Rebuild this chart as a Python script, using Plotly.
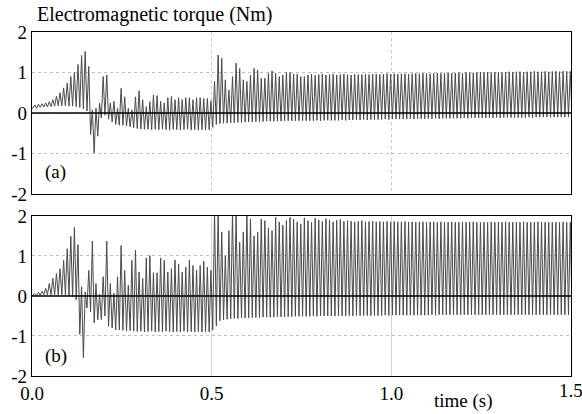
import plotly.graph_objects as go

# Torque pulsation: one record per 10 ms cycle (100 Hz), max and min of each cycle in Nm
PERIOD = 0.01

# ---- (a) ----
a_start = 0.10
a_peak = [
    0.20, 0.22, 0.23, 0.25, 0.28, 0.33, 0.42, 0.50, 0.62, 0.74, 0.90, 1.00, 1.20, 1.42, 1.52, 1.15,
    0.08, 0.12, 0.25, 0.90, 0.94, 0.25, 0.29, 0.12, 0.61, 0.40, 0.12, 0.08,
    0.40, 0.55, 0.33, 0.16, 0.28, 0.45, 0.43, 0.29, 0.25, 0.38, 0.41, 0.33, 0.38, 0.33, 0.38, 0.38,
    0.33, 0.38, 0.38, 0.36, 0.36, 0.30,
    0.78, 1.43, 1.35, 0.82, 0.57, 0.90, 1.23, 1.10, 0.82, 0.78, 0.94, 1.10, 1.06, 0.86, 0.86, 0.98,
    1.04, 0.98, 0.90, 0.94, 1.00, 1.00, 0.96, 0.96, 0.90,
    0.90, 0.94, 0.96, 0.93, 0.95, 0.96, 0.94, 0.95, 0.96, 0.94,
    0.95, 0.96, 0.95, 0.94, 0.96, 0.95, 0.95, 0.96, 0.95, 0.96,
    0.96, 0.95, 0.96, 0.97, 0.96, 0.97, 0.96, 0.97, 0.97, 0.96,
    0.97, 0.98, 0.97, 0.98, 0.98, 0.97, 0.98, 0.99, 0.98, 0.99,
    0.99, 0.98, 0.99, 1.00, 0.99, 1.00, 1.00, 0.99, 1.00, 1.01,
    1.00, 1.01, 1.00, 1.01, 1.01, 1.00, 1.01, 1.02, 1.01, 1.02,
    1.02, 1.01, 1.02, 1.02, 1.03, 1.02, 1.02, 1.03, 1.02, 1.03,
    1.03, 1.02, 1.03, 1.03, 1.03,
]
a_trough = [
    0.12, 0.14, 0.15, 0.15, 0.16, 0.17, 0.18, 0.18, 0.18, 0.17, 0.17, 0.16, 0.14, 0.10, 0.05, -0.53,
    -0.98, -0.57, -0.12, -0.05, -0.15, -0.22, -0.28, -0.30, -0.30, -0.32, -0.34, -0.36,
    -0.38, -0.39, -0.40, -0.40, -0.41, -0.40, -0.41, -0.40, -0.41, -0.42, -0.40, -0.41, -0.42, -0.41,
    -0.40, -0.42, -0.41, -0.42, -0.41, -0.42, -0.41, -0.35,
    -0.28, -0.26, -0.25, -0.25, -0.24, -0.24, -0.23, -0.23, -0.22, -0.22, -0.22, -0.21, -0.21, -0.21,
    -0.20, -0.20, -0.20, -0.20, -0.20, -0.19, -0.19, -0.19, -0.19, -0.19, -0.19,
    -0.19, -0.19, -0.19, -0.18, -0.19, -0.18, -0.18, -0.18, -0.18, -0.18,
    -0.17, -0.18, -0.17, -0.17, -0.17, -0.17, -0.16, -0.17, -0.16, -0.16,
    -0.16, -0.16, -0.15, -0.16, -0.15, -0.15, -0.15, -0.15, -0.15, -0.14,
    -0.15, -0.14, -0.14, -0.14, -0.14, -0.14, -0.13, -0.14, -0.13, -0.13,
    -0.13, -0.13, -0.13, -0.13, -0.12, -0.13, -0.12, -0.12, -0.12, -0.12,
    -0.12, -0.12, -0.12, -0.11, -0.12, -0.11, -0.11, -0.11, -0.11, -0.11,
    -0.11, -0.11, -0.10, -0.11, -0.10, -0.10, -0.10, -0.10, -0.10, -0.10,
    -0.10, -0.10, -0.10, -0.10, -0.10,
]

# ---- (b) ----
b_start = 0.0
b_peak = [
    0.06, 0.09, 0.12, 0.19, 0.31, 0.44, 0.56, 0.68, 0.89, 1.18, 1.49, 1.71, 1.28, 0.23, 0.10, 0.64,
    1.37, 0.31, 0.05, 0.48, 1.37, 0.31, 0.07, 0.48, 1.26, 0.64, 0.27, 0.89,
    1.14, 0.60, 0.44, 0.95, 1.01, 0.58, 0.58, 0.95, 0.89, 0.60, 0.68, 0.90, 0.80, 0.60, 0.72, 0.90,
    0.76, 0.64, 0.76, 0.87, 0.72, 0.64,
    2.10, 2.10, 1.60, 1.00, 1.63, 2.10, 2.05, 1.34, 1.60, 2.05, 1.92, 1.50, 1.60, 1.92, 1.88, 1.70,
    1.63, 1.96, 1.85, 1.77, 1.88, 1.96, 1.92, 1.85, 1.80,
    1.95, 1.88, 1.84, 1.94, 1.90, 1.86, 1.93, 1.90, 1.85, 1.89,
    1.91, 1.86, 1.88, 1.87, 1.85, 1.86, 1.88, 1.85, 1.86, 1.87,
    1.85, 1.86, 1.85, 1.86, 1.85, 1.86, 1.85, 1.85, 1.86, 1.85,
    1.85, 1.84, 1.85, 1.85, 1.84, 1.85, 1.85, 1.84, 1.85, 1.84,
    1.84, 1.85, 1.84, 1.84, 1.85, 1.84, 1.84, 1.85, 1.84, 1.84,
    1.84, 1.84, 1.85, 1.84, 1.84, 1.84, 1.85, 1.84, 1.84, 1.84,
    1.84, 1.85, 1.84, 1.84, 1.84, 1.85, 1.84, 1.84, 1.84, 1.84,
    1.84, 1.84, 1.85, 1.84, 1.84,
]
b_trough = [
    0.01, 0.02, 0.03, 0.03, 0.03, 0.03, 0.03, 0.03, 0.02, 0.00, -0.02, -0.10, -0.96, -1.54, -0.30, -0.40,
    -0.67, -0.60, -0.59, -0.50, -0.76, -0.80, -0.85, -0.85, -0.86, -0.88, -0.87, -0.88,
    -0.89, -0.88, -0.90, -0.89, -0.88, -0.90, -0.89, -0.90, -0.88, -0.89, -0.90, -0.89, -0.90, -0.88,
    -0.90, -0.89, -0.90, -0.89, -0.90, -0.89, -0.90, -0.85,
    -0.75, -0.62, -0.60, -0.58, -0.57, -0.56, -0.56, -0.55, -0.55, -0.55, -0.54, -0.54, -0.54, -0.53,
    -0.53, -0.53, -0.53, -0.52, -0.52, -0.52, -0.52, -0.52, -0.51, -0.51, -0.51,
    -0.51, -0.51, -0.50, -0.51, -0.50, -0.50, -0.50, -0.50, -0.50, -0.50,
    -0.50, -0.50, -0.49, -0.50, -0.49, -0.49, -0.49, -0.49, -0.49, -0.49,
    -0.49, -0.49, -0.48, -0.49, -0.48, -0.48, -0.48, -0.48, -0.48, -0.48,
    -0.48, -0.48, -0.48, -0.48, -0.48, -0.47, -0.48, -0.47, -0.47, -0.47,
    -0.47, -0.47, -0.47, -0.47, -0.47, -0.47, -0.47, -0.47, -0.47, -0.47,
    -0.47, -0.47, -0.47, -0.47, -0.47, -0.47, -0.47, -0.47, -0.47, -0.47,
    -0.47, -0.47, -0.47, -0.47, -0.47, -0.47, -0.47, -0.47, -0.47, -0.47,
    -0.47, -0.47, -0.47, -0.47, -0.47,
]

x_ticks = [0.0, 0.5, 1.0, 1.5]
x_tick_text = ["0.0", "0.5", "1.0", "1.5"]
y_ticks = [-2, -1, 0, 1, 2]
y_tick_text = ["-2", "-1", "0", "1", "2"]


def waveform(start, peaks, troughs):
    """Join each cycle's maximum and minimum into one continuous trace."""
    t, y = [0.0], [start]
    for k, (hi, lo) in enumerate(zip(peaks, troughs)):
        t.append((k + 0.8) * PERIOD)
        y.append(hi)
        t.append((k + 1.3) * PERIOD)
        y.append(lo)
    return t, y


FONT = "Liberation Serif"
TRACE = dict(color="#4a4a4a", width=1)


def txt(size=19):
    return dict(family=FONT, size=size, color="black")


fig = go.Figure()
ta, ya = waveform(a_start, a_peak, a_trough)
tb, yb = waveform(b_start, b_peak, b_trough)
fig.add_trace(go.Scatter(x=ta, y=ya, mode="lines", line=TRACE, xaxis="x", yaxis="y",
                         showlegend=False, hoverinfo="skip"))
fig.add_trace(go.Scatter(x=tb, y=yb, mode="lines", line=TRACE, xaxis="x2", yaxis="y2",
                         showlegend=False, hoverinfo="skip"))

# zero reference lines drawn over the traces
for xr, yr in (("x", "y"), ("x2", "y2")):
    fig.add_shape(type="line", xref=xr, yref=yr, x0=0, x1=1.5, y0=0, y1=0,
                  line=dict(color="black", width=1.5), layer="above")

xcommon = dict(range=[0, 1.5], tickvals=x_ticks[:-1], ticktext=x_tick_text[:-1], showline=True,
               mirror=True, linecolor="black", linewidth=1.2, zeroline=False,
               showgrid=True, gridcolor="#c8c8c8", gridwidth=1, ticks="", tickfont=txt())
ycommon = dict(range=[-2, 2], tickvals=y_ticks, ticktext=y_tick_text, showline=True,
               mirror=True, linecolor="black", linewidth=1.2, zeroline=False,
               showgrid=True, gridcolor="#c0c0c0", gridwidth=1, griddash="dot", ticks="",
               tickfont=txt())

fig.update_layout(
    width=582, height=414,
    margin=dict(l=32, r=10, t=32, b=34),
    paper_bgcolor="white", plot_bgcolor="white",
    font=txt(),
    xaxis=dict(xcommon, domain=[0, 1], anchor="y", showticklabels=False, griddash="dot"),
    yaxis=dict(ycommon, domain=[0.5287, 1], anchor="x"),
    xaxis2=dict(xcommon, domain=[0, 1], anchor="y2", griddash="solid", gridcolor="#d4d4d4"),
    yaxis2=dict(ycommon, domain=[0, 0.4655], anchor="x2"),
    annotations=[
        dict(text="Electromagnetic torque (Nm)", xref="paper", yref="paper", x=0.006, y=1.052,
             xanchor="left", yanchor="middle", showarrow=False, font=txt(20)),
        dict(text="(a)", xref="paper", yref="paper", x=0.044, y=0.592,
             xanchor="center", yanchor="middle", showarrow=False, font=txt()),
        dict(text="(b)", xref="paper", yref="paper", x=0.044, y=0.0575,
             xanchor="center", yanchor="middle", showarrow=False, font=txt()),
        # last x tick label sits at the right border
        dict(text=x_tick_text[-1], xref="x2", yref="paper", x=x_ticks[-1], y=-0.043,
             xanchor="center", yanchor="middle", showarrow=False, font=txt()),
        dict(text="time (s)", xref="paper", yref="paper", x=0.8, y=-0.072,
             xanchor="center", yanchor="middle", showarrow=False, font=txt()),
    ],
)

fig.write_html("out.html")
